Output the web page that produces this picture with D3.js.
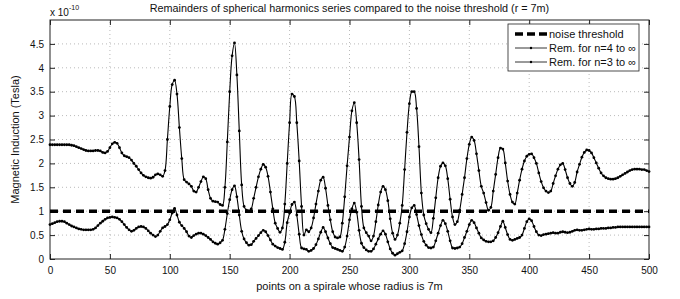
<!DOCTYPE html>
<html>
<head>
<meta charset="utf-8">
<script src="https://cdn.jsdelivr.net/npm/d3@7"></script>
<style>
  body { margin: 0; background: #fff; }
  text { font-family: "Liberation Sans", Arial, sans-serif; fill: #111; }
  .tick text { font-size: 10px; }
  .grid line { stroke: #a8a8a8; stroke-width: 0.8; stroke-dasharray: 1,3; }
</style>
</head>
<body>
<div id="chart"></div>
<script>
/****************************************/
/*****  Data   *****/
/****************************************/
// every 2nd point along the spirale (0 to 500)
const pointStep = 2;
const points = d3.range(0, 501, pointStep);

// Rem. for n=3 to infinity (x 1e-10 T)
const remN3 = [
  2.39, 2.39, 2.39, 2.39, 2.39, 2.39, 2.39, 2.39, 2.39, 2.38,
  2.37, 2.35, 2.33, 2.31, 2.29, 2.27, 2.26, 2.26, 2.26, 2.27,
  2.27, 2.26, 2.23, 2.22, 2.25, 2.33, 2.41, 2.44, 2.42, 2.33,
  2.22, 2.16, 2.14, 2.12, 2.07, 2.00, 1.94, 1.87, 1.80, 1.75,
  1.72, 1.70, 1.69, 1.71, 1.76, 1.78, 1.76, 1.73, 1.85, 2.50,
  3.19, 3.65, 3.74, 3.45, 2.75, 2.10, 1.66, 1.61, 1.57, 1.52,
  1.42, 1.40, 1.50, 1.62, 1.72, 1.68, 1.45, 1.27, 1.21, 1.20,
  1.19, 1.14, 1.12, 1.50, 2.45, 3.50, 4.25, 4.52, 3.85, 2.68,
  1.55, 1.10, 1.02, 1.00, 1.05, 1.27, 1.50, 1.72, 1.88, 1.98,
  1.92, 1.73, 1.40, 1.05, 0.75, 0.64, 0.56, 0.65, 1.15, 2.00,
  2.85, 3.45, 3.40, 2.85, 2.05, 1.10, 0.50, 0.61, 0.57, 0.65,
  0.86, 1.15, 1.42, 1.65, 1.71, 1.48, 1.12, 0.82, 0.57, 0.46,
  0.44, 0.46, 0.75, 1.30, 1.95, 2.55, 3.10, 3.27, 2.85, 2.08,
  1.10, 0.65, 0.55, 0.48, 0.38, 0.48, 0.78, 1.13, 1.40, 1.52,
  1.45, 1.22, 0.84, 0.54, 0.41, 0.50, 0.75, 1.12, 1.87, 2.65,
  3.25, 3.50, 3.50, 3.15, 2.35, 1.38, 0.92, 0.74, 0.62, 0.55,
  0.85, 1.28, 1.70, 1.94, 2.01, 1.95, 1.68, 1.25, 0.88, 0.72,
  0.78, 1.02, 1.35, 1.70, 2.10, 2.40, 2.55, 2.48, 2.20, 1.85,
  1.52, 1.38, 1.18, 1.02, 1.08, 1.42, 1.77, 2.12, 2.32, 2.30,
  2.01, 1.63, 1.35, 1.19, 1.15, 1.38, 1.65, 1.88, 2.05, 2.15,
  2.19, 2.20, 2.12, 2.00, 1.80, 1.62, 1.49, 1.42, 1.39, 1.42,
  1.58, 1.74, 1.88, 1.97, 2.00, 1.87, 1.70, 1.58, 1.52, 1.60,
  1.82, 1.98, 2.13, 2.23, 2.28, 2.27, 2.22, 2.12, 2.01, 1.90,
  1.80, 1.74, 1.70, 1.68, 1.67, 1.67, 1.68, 1.70, 1.73, 1.76,
  1.79, 1.82, 1.85, 1.87, 1.88, 1.88, 1.88, 1.87, 1.87, 1.85,
  1.83
];

// Rem. for n=4 to infinity (x 1e-10 T)
const remN4 = [
  0.72, 0.74, 0.76, 0.78, 0.79, 0.79, 0.78, 0.75, 0.72, 0.69,
  0.67, 0.65, 0.63, 0.62, 0.61, 0.61, 0.61, 0.61, 0.62, 0.65,
  0.70, 0.75, 0.79, 0.83, 0.86, 0.87, 0.88, 0.87, 0.86, 0.83,
  0.78, 0.72, 0.66, 0.61, 0.58, 0.60, 0.64, 0.67, 0.68, 0.67,
  0.64, 0.59, 0.54, 0.50, 0.47, 0.50, 0.58, 0.65, 0.68, 0.72,
  0.82, 0.96, 1.06, 0.92, 0.77, 0.70, 0.64, 0.57, 0.48, 0.45,
  0.49, 0.52, 0.54, 0.54, 0.52, 0.49, 0.45, 0.41, 0.36, 0.33,
  0.31, 0.34, 0.39, 0.62, 0.95, 1.24, 1.45, 1.53, 1.30, 0.92,
  0.58, 0.42, 0.34, 0.29, 0.30, 0.37, 0.43, 0.49, 0.55, 0.60,
  0.57, 0.49, 0.40, 0.31, 0.27, 0.24, 0.22, 0.20, 0.35, 0.76,
  0.96, 1.14, 1.19, 0.92, 0.52, 0.23, 0.21, 0.20, 0.16, 0.18,
  0.22, 0.30, 0.42, 0.56, 0.66, 0.57, 0.44, 0.32, 0.24, 0.22,
  0.20, 0.18, 0.16, 0.25, 0.48, 0.82, 1.05, 1.17, 0.98, 0.60,
  0.33, 0.24, 0.19, 0.16, 0.16, 0.21, 0.31, 0.42, 0.52, 0.59,
  0.52, 0.36, 0.21, 0.12, 0.08, 0.11, 0.14, 0.17, 0.32, 0.57,
  0.88, 1.07, 1.12, 0.93, 0.70, 0.51, 0.37, 0.29, 0.24, 0.23,
  0.25, 0.38, 0.54, 0.70, 0.81, 0.74, 0.58, 0.38, 0.23, 0.22,
  0.23, 0.25, 0.32, 0.45, 0.58, 0.72, 0.81, 0.76, 0.65, 0.54,
  0.44, 0.40, 0.37, 0.36, 0.36, 0.38, 0.45, 0.55, 0.68, 0.79,
  0.66, 0.51, 0.41, 0.39, 0.41, 0.43, 0.45, 0.50, 0.64, 0.78,
  0.84, 0.80, 0.68, 0.57, 0.50, 0.49, 0.51, 0.52, 0.53, 0.54,
  0.55, 0.54, 0.54, 0.56, 0.57, 0.56, 0.55, 0.56, 0.58, 0.60,
  0.61, 0.60, 0.60, 0.61, 0.62, 0.63, 0.62, 0.62, 0.63, 0.63,
  0.64, 0.64, 0.64, 0.65, 0.65, 0.66, 0.66, 0.67, 0.67, 0.67,
  0.67, 0.67, 0.67, 0.67, 0.67, 0.67, 0.67, 0.67, 0.67, 0.67,
  0.67
];

const noiseThreshold = 1;
const xTicks = [0, 50, 100, 150, 200, 250, 300, 350, 400, 450, 500];
const yTicks = [0, 0.5, 1, 1.5, 2, 2.5, 3, 3.5, 4, 4.5];
const legendLabels = ['noise threshold', 'Rem. for n=4 to \u221e', 'Rem. for n=3 to \u221e'];

/****************************************/
/*****  Chart   *****/
/****************************************/
const width = 680;
const height = 299;
const margin = { top: 20, right: 31, bottom: 40, left: 50 };

const svg = d3.select('#chart')
  .append('svg')
    .attr('width', width)
    .attr('height', height);

const x = d3.scaleLinear()
  .domain([0, 500])
  .range([margin.left, width - margin.right]);

const y = d3.scaleLinear()
  .domain([0, 5])
  .range([height - margin.bottom, margin.top]);

// dotted grid
const grid = svg.append('g').attr('class', 'grid');
grid.selectAll('.gx')
  .data(xTicks.slice(1, -1))
  .join('line')
    .attr('x1', d => x(d)).attr('x2', d => x(d))
    .attr('y1', y(0)).attr('y2', y(5));
grid.selectAll('.gy')
  .data(yTicks.slice(1))
  .join('line')
    .attr('x1', x(0)).attr('x2', x(500))
    .attr('y1', d => y(d)).attr('y2', d => y(d));

// axes, ticks pointing inwards like matlab
const axisStyle = g => {
  g.select('.domain').remove();
  g.selectAll('.tick line').attr('stroke', '#222');
};
svg.append('g')
  .attr('transform', `translate(0,${y(0)})`)
  .call(d3.axisBottom(x).tickValues(xTicks).tickSizeInner(-5).tickSizeOuter(0).tickPadding(8))
  .call(axisStyle);
svg.append('g')
  .attr('transform', `translate(0,${y(5)})`)
  .call(d3.axisTop(x).tickValues(xTicks).tickSizeInner(-5).tickSizeOuter(0).tickFormat(''))
  .call(axisStyle);
svg.append('g')
  .attr('transform', `translate(${x(0)},0)`)
  .call(d3.axisLeft(y).tickValues(yTicks).tickSizeInner(-5).tickSizeOuter(0).tickPadding(6).tickFormat(d => d))
  .call(axisStyle);
svg.append('g')
  .attr('transform', `translate(${x(500)},0)`)
  .call(d3.axisRight(y).tickValues(yTicks).tickSizeInner(-5).tickSizeOuter(0).tickFormat(''))
  .call(axisStyle);

// box around plot
svg.append('rect')
  .attr('x', x(0))
  .attr('y', y(5))
  .attr('width', x(500) - x(0))
  .attr('height', y(0) - y(5))
  .attr('fill', 'none')
  .attr('stroke', '#222')
  .attr('stroke-width', 1);

// noise threshold
svg.append('line')
  .attr('x1', x(0)).attr('x2', x(500))
  .attr('y1', y(noiseThreshold)).attr('y2', y(noiseThreshold))
  .attr('stroke', '#000')
  .attr('stroke-width', 3.5)
  .attr('stroke-dasharray', '8,5');

// the two remainder series
const line = d3.line()
  .x((d, i) => x(points[i]))
  .y(d => y(d))
  .curve(d3.curveCatmullRom.alpha(0.5));

[remN4, remN3].forEach(series => {
  const g = svg.append('g');
  g.append('path')
    .attr('d', line(series))
    .attr('fill', 'none')
    .attr('stroke', '#000')
    .attr('stroke-width', 1.1);
  g.selectAll('circle')
    .data(series)
    .join('circle')
      .attr('cx', (d, i) => x(points[i]))
      .attr('cy', d => y(d))
      .attr('r', 1.4)
      .attr('fill', '#000');
});

// titles
svg.append('text')
  .attr('x', (x(0) + x(500)) / 2)
  .attr('y', 12)
  .attr('text-anchor', 'middle')
  .style('font-size', '10.8px')
  .text('Remainders of spherical harmonics series compared to the noise threshold (r = 7m)');

const expo = svg.append('text')
  .attr('x', x(0))
  .attr('y', 16)
  .style('font-size', '10px');
expo.append('tspan').text('x 10');
expo.append('tspan')
  .attr('dy', -6)
  .style('font-size', '7px')
  .text('-10');

svg.append('text')
  .attr('transform', `translate(19,${(y(0) + y(5)) / 2}) rotate(-90)`)
  .attr('text-anchor', 'middle')
  .style('font-size', '11px')
  .text('Magnetic Induction (Tesla)');

svg.append('text')
  .attr('x', (x(0) + x(500)) / 2)
  .attr('y', 290)
  .attr('text-anchor', 'middle')
  .style('font-size', '11px')
  .text('points on a spirale whose radius is 7m');

/****************************************/
/*****  Legend   *****/
/****************************************/
const legend = svg.append('g')
  .attr('transform', 'translate(508,24)');
legend.append('rect')
  .attr('width', 131)
  .attr('height', 47)
  .attr('fill', '#fff')
  .attr('stroke', '#222')
  .attr('stroke-width', 0.8);

const legendRows = legend.selectAll('.legend-row')
  .data(legendLabels)
  .join('g')
    .attr('class', 'legend-row')
    .attr('transform', (d, i) => `translate(0,${10 + i * 14})`);

legendRows.append('line')
  .attr('x1', 7).attr('x2', 39)
  .attr('stroke', '#000')
  .attr('stroke-width', (d, i) => i === 0 ? 3.5 : 0.8)
  .attr('stroke-dasharray', (d, i) => i === 0 ? '8,4' : null);
legendRows.filter((d, i) => i > 0)
  .append('circle')
    .attr('cx', 23)
    .attr('r', 1.2)
    .attr('fill', '#000');
legendRows.append('text')
  .attr('x', 41)
  .attr('dy', '0.35em')
  .style('font-size', '11px')
  .text(d => d);
</script>
</body>
</html>
